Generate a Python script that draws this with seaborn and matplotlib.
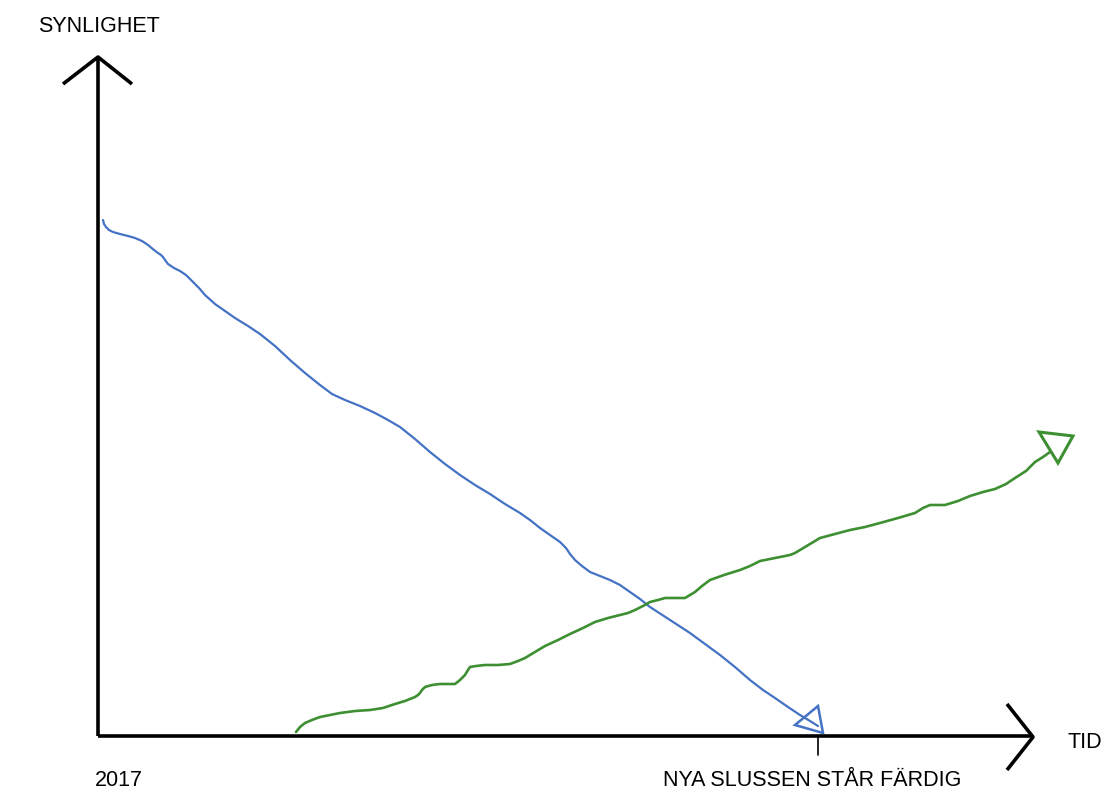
import numpy as np
import pandas as pd
import matplotlib.pyplot as plt
from matplotlib.patches import Polygon
import seaborn as sns

# hand-drawn sketch: visibility over time
old_t = [5, 6, 8, 11, 15, 22, 30, 37, 44, 50, 56, 60, 63, 65, 67, 70, 76, 82, 88, 94, 101, 107,
         117, 127, 137, 150, 162, 177, 192, 207, 222, 234, 247, 262, 277, 290, 302, 317, 332, 347,
         362, 377, 392, 407, 422, 432, 442, 452, 462, 468, 472, 477, 484, 492, 502, 512, 522, 532,
         542, 552, 572, 592, 607, 622, 637, 652, 665, 677, 690, 702, 712, 720]
old_vis = [516, 512, 509, 506, 504, 502, 500, 498, 495, 491, 486, 483, 481, 479, 476, 472, 468, 465,
           461, 455, 448, 441, 432, 425, 418, 410, 402, 390, 376, 363, 351, 342, 336, 330, 323, 316,
           309, 297, 284, 272, 261, 251, 242, 232, 223, 216, 208, 201, 194, 188, 182, 176, 170, 164,
           160, 156, 151, 144, 137, 129, 116, 103, 92, 81, 69, 56, 46, 38, 29, 21, 15, 10]

new_t = [198, 202, 207, 214, 222, 232, 242, 257, 272, 285, 297, 307, 317, 320, 322, 324, 327, 334,
         342, 350, 357, 362, 367, 370, 372, 378, 387, 400, 412, 420, 427, 437, 447, 460, 472, 485,
         497, 510, 522, 530, 537, 545, 552, 560, 567, 577, 587, 592, 597, 604, 612, 626, 642, 652,
         662, 677, 692, 697, 702, 712, 722, 737, 752, 767, 782, 800, 817, 825, 832, 840, 847, 860,
         872, 885, 897, 908, 917, 928, 937, 945, 952]
new_vis = [4, 9, 13, 16, 19, 21, 23, 25, 26, 28, 32, 35, 39, 41, 43, 46, 49, 51, 52, 52, 52, 56, 61,
           66, 69, 70, 71, 71, 72, 75, 78, 84, 90, 96, 102, 108, 114, 118, 121, 123, 126, 130, 134,
           136, 138, 138, 138, 141, 144, 150, 156, 161, 166, 170, 175, 178, 181, 183, 186, 192, 198,
           202, 206, 209, 213, 218, 223, 228, 231, 231, 231, 235, 240, 244, 247, 252, 258, 265, 274,
           279, 284]

x_label = "TID"
y_label = "SYNLIGHET"
start_label = "2017"
end_label = "NYA SLUSSEN STÅR FÄRDIG"
end_t = 720

BLUE = "#4472c4"
GREEN = "#3d8f32"

sns.set_style("white")
plt.rcParams["font.family"] = ["Liberation Sans", "DejaVu Sans"]

fig = plt.figure(figsize=(11.07, 7.93), dpi=100)
ax = fig.add_axes([0, 0, 1, 1])
ax.set_xlim(-98, 1009)
ax.set_ylim(-57, 736)
ax.axis("off")

old = pd.DataFrame({"t": old_t, "vis": old_vis})
new = pd.DataFrame({"t": new_t, "vis": new_vis})
sns.lineplot(data=old, x="t", y="vis", sort=False, color=BLUE, lw=1.6,
             solid_joinstyle="round", solid_capstyle="round", ax=ax)
sns.lineplot(data=new, x="t", y="vis", sort=False, color=GREEN, lw=1.9,
             solid_joinstyle="round", solid_capstyle="round", ax=ax)

# open triangle arrowheads at the curve ends
ax.add_patch(Polygon([(697, 11), (720, 30), (725, 3)], closed=True, fill=False,
                     edgecolor=BLUE, lw=1.8))
ax.add_patch(Polygon([(941, 304), (975, 300), (960, 273)], closed=True, fill=False,
                     edgecolor=GREEN, lw=2.2))

# sketched axes with chevron arrows
k = dict(color="black", lw=2.6, solid_capstyle="butt")
ax.plot([0, 0], [0, 679], **k)
ax.plot([-35, 0, 34], [652, 679, 652], **k)
ax.plot([0, 935], [0, 0], **k)
ax.plot([909, 935, 909], [32, -1, -34], **k)
ax.plot([end_t, end_t], [0, -19], color="black", lw=1.2)

fs = 15.5
tc = "black"
ax.text(-60, 709, y_label, fontsize=fs, color=tc, ha="left", va="center")
ax.text(970, -7, x_label, fontsize=fs, color=tc, ha="left", va="center")
ax.text(-3, -45, start_label, fontsize=fs, color=tc, ha="left", va="center")
ax.text(end_t - 6, -45, end_label, fontsize=fs, color=tc, ha="center", va="center")

fig.savefig("out.png", dpi=100)
